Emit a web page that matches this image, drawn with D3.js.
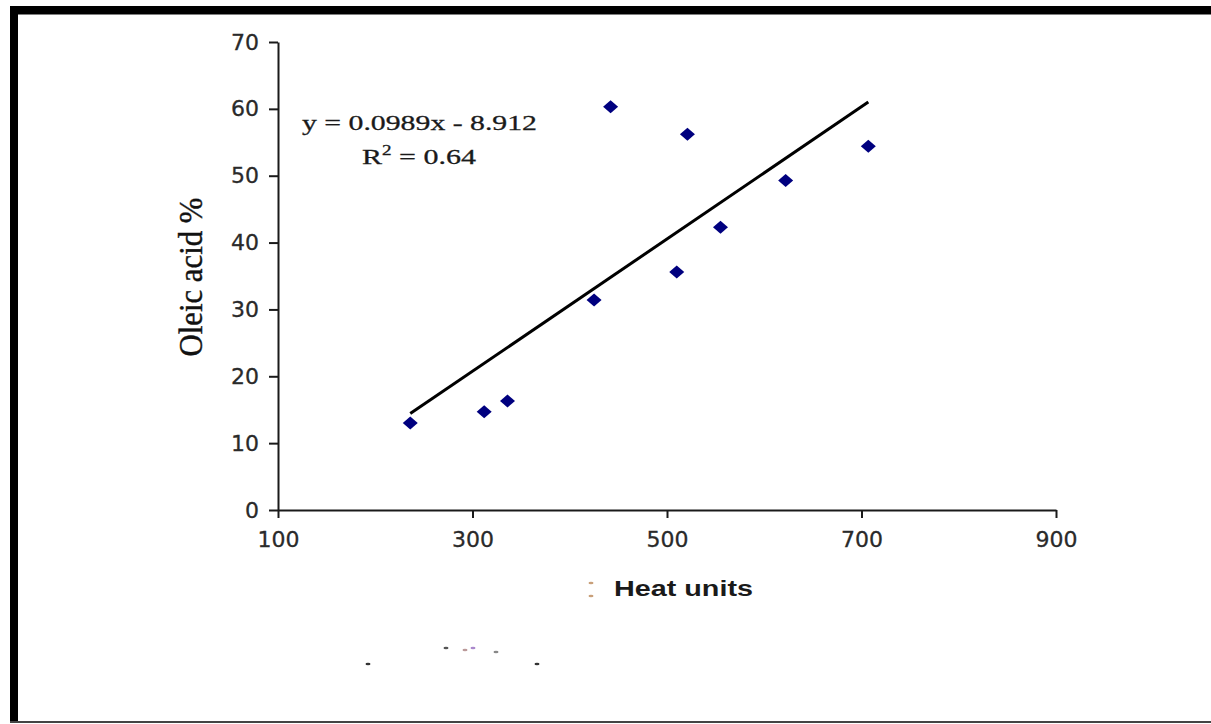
<!DOCTYPE html>
<html>
<head>
<meta charset="utf-8">
<script src="https://cdn.jsdelivr.net/npm/d3@7"></script>
<style>
  html, body { margin: 0; padding: 0; background: #fff; }
  svg { display: block; }
</style>
</head>
<body>
<div id="chart"></div>
<script>
// heat units vs oleic acid %
const heatUnits = [236, 312, 336, 425, 442, 510, 521, 555, 622, 707];
const oleicAcid = [13.0, 14.7, 16.3, 31.4, 60.3, 35.6, 56.2, 42.3, 49.3, 54.4];
const xTicks = [100, 300, 500, 700, 900];
const yTicks = [0, 10, 20, 30, 40, 50, 60, 70];
const trendSlope = 0.0989;
const trendIntercept = -8.912;
const equationLabel = "y = 0.0989x - 8.912";
const rSquaredLabel = "0.64";

const W = 1211, H = 724;
const margin = {"top": 42, "left": 278, "right": 155, "bottom": 214};

const svg = d3.select("#chart")
  .append("svg")
    .attr("width", W)
    .attr("height", H);

const x = d3.scaleLinear()
  .domain([100, 900])
  .range([margin.left, W - margin.right]);
const y = d3.scaleLinear()
  .domain([0, 70])
  .range([H - margin.bottom, margin.top]);

// frame (scanned page border)
const frame = svg.append("g");
frame.append("rect")
  .attr("x", 10).attr("y", 6)
  .attr("width", W - 10).attr("height", 8.5)
  .attr("fill", "#000");
frame.append("rect")
  .attr("x", 10).attr("y", 6)
  .attr("width", 8).attr("height", 717)
  .attr("fill", "#000");
frame.append("rect")
  .attr("x", 10).attr("y", 721)
  .attr("width", W - 10).attr("height", 2)
  .attr("fill", "#444");

// axes
const tickFont = "'DejaVu Sans', Verdana, sans-serif";

const yAxis = svg.append("g")
  .attr("transform", `translate(${margin.left},0)`)
  .call(d3.axisLeft(y).tickValues(yTicks).tickSize(9).tickPadding(10).tickSizeOuter(0));
const xAxis = svg.append("g")
  .attr("transform", `translate(0,${H - margin.bottom})`)
  .call(d3.axisBottom(x).tickValues(xTicks).tickSize(8).tickPadding(13).tickSizeOuter(0));

[xAxis, yAxis].forEach((ax) => {
  ax.select(".domain").attr("stroke", "#1a1a1a").attr("stroke-width", 2);
  ax.selectAll(".tick line").attr("stroke", "#1a1a1a").attr("stroke-width", 2);
  ax.selectAll(".tick text")
    .attr("font-family", tickFont)
    .attr("font-size", 22)
    .attr("fill", "#2a2a2a")
    .attr("stroke", "#2a2a2a")
    .attr("stroke-width", 0.3);
});

// trend line over the data range
const xExt = d3.extent(heatUnits);
const trend = xExt.map((v) => [v, trendSlope * v + trendIntercept]);
svg.append("path")
  .datum(trend)
  .attr("d", d3.line().x((d) => x(d[0])).y((d) => y(d[1])))
  .attr("stroke", "#000")
  .attr("stroke-width", 3)
  .attr("fill", "none");

// diamonds
const dw = 7.5, dh = 6.5;
svg.append("g")
  .selectAll("path")
  .data(heatUnits.map((v, i) => [v, oleicAcid[i]]))
  .enter()
  .append("path")
    .attr("transform", (d) => `translate(${x(d[0])},${y(d[1])})`)
    .attr("d", `M0,${-dh} L${dw},0 L0,${dh} L${-dw},0 Z`)
    .attr("fill", "#00007f");

// equation
const serif = "'Liberation Serif', 'Times New Roman', serif";
svg.append("text")
  .attr("x", 302)
  .attr("y", 130)
  .attr("font-family", serif)
  .attr("font-size", 22)
  .attr("fill", "#1a1a1a")
  .attr("stroke", "#1a1a1a")
  .attr("stroke-width", 0.3)
  .attr("textLength", 235)
  .attr("lengthAdjust", "spacingAndGlyphs")
  .text(equationLabel);
const r2 = svg.append("text")
  .attr("x", 362)
  .attr("y", 164)
  .attr("font-family", serif)
  .attr("font-size", 22)
  .attr("fill", "#1a1a1a")
  .attr("stroke", "#1a1a1a")
  .attr("stroke-width", 0.3)
  .attr("textLength", 114)
  .attr("lengthAdjust", "spacingAndGlyphs");
r2.append("tspan").text("R");
r2.append("tspan").attr("dy", -9).attr("font-size", 14).text("2");
r2.append("tspan").attr("dy", 9).text(" = " + rSquaredLabel);

// axis titles
svg.append("text")
  .attr("transform", "translate(202,277) rotate(-90)")
  .attr("text-anchor", "middle")
  .attr("font-family", serif)
  .attr("font-size", 33)
  .attr("fill", "#111")
  .attr("stroke", "#111")
  .attr("stroke-width", 0.4)
  .attr("textLength", 159)
  .attr("lengthAdjust", "spacingAndGlyphs")
  .text("Oleic acid %");

svg.append("text")
  .attr("x", 614)
  .attr("y", 596)
  .attr("font-family", "'Liberation Sans', Arial, sans-serif")
  .attr("font-weight", "bold")
  .attr("font-size", 22)
  .attr("fill", "#1a1a1a")
  .attr("textLength", 139)
  .attr("lengthAdjust", "spacingAndGlyphs")
  .text("Heat units");

// scan specks
const specks = svg.append("g").attr("fill", "#555");
[[591, 583, "#c9a07a"], [591, 596, "#c9a07a"], [368, 664, "#333"], [446, 648, "#555"],
 [465, 650, "#b99"], [473, 648, "#a8c"], [496, 652, "#888"], [537, 664, "#333"]]
  .forEach((s) => {
    specks.append("ellipse")
      .attr("cx", s[0]).attr("cy", s[1])
      .attr("rx", 2.5).attr("ry", 1.3)
      .attr("fill", s[2]);
  });
</script>
</body>
</html>
